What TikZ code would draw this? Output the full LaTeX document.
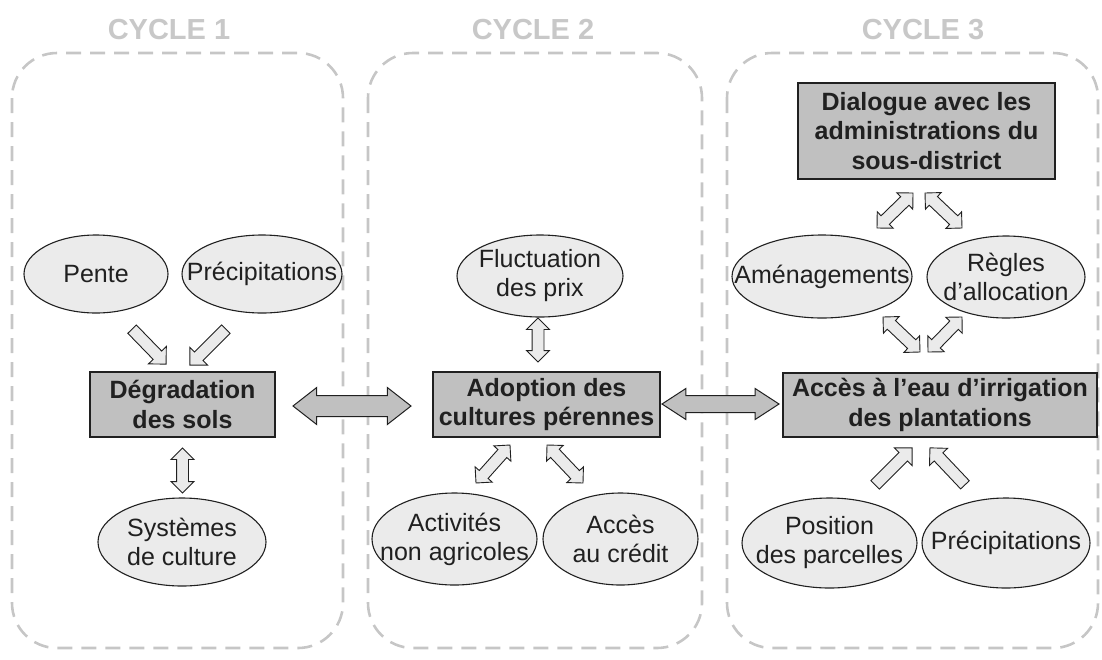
\documentclass[tikz,border=0pt]{standalone}
\usepackage{fontspec}
\setmainfont{Liberation Sans}
\usetikzlibrary{shapes.geometric,shapes.arrows,calc}

\definecolor{boxgray}{HTML}{C0C0C0}
\definecolor{ellfill}{HTML}{EBEBEB}
\definecolor{dashgray}{HTML}{C6C6C6}
\definecolor{titlegray}{HTML}{C8C8C8}
\definecolor{inkline}{HTML}{202020}

\tikzset{
  cyclebox/.style={draw=dashgray, line width=2.6pt, dash pattern=on 15pt off 9pt, rounded corners=45pt},
  cycletitle/.style={text=titlegray, font=\fontsize{29}{33}\selectfont\bfseries, inner sep=0pt},
  keybox/.style={rectangle, draw=inkline, line width=1.1pt, fill=boxgray, text=inkline,
    font=\fontsize{25}{29.5}\selectfont\bfseries, align=center, inner sep=0pt},
  factor/.style={ellipse, draw=inkline, line width=1.1pt, fill=ellfill, text=inkline,
    font=\fontsize{25}{29}\selectfont, align=center, inner xsep=-70pt, inner ysep=-40pt},
  smallarrow/.style={double arrow, draw=inkline, line width=0.9pt, fill=ellfill,
    inner xsep=0pt, inner ysep=5.5pt, double arrow head extend=5.5pt, minimum width=1pt,
    double arrow tip angle=90},
  onearrow/.style={single arrow, draw=inkline, line width=0.9pt, fill=ellfill,
    inner xsep=0pt, inner ysep=5.5pt, single arrow head extend=6.5pt, minimum width=1pt,
    single arrow tip angle=90},
  bigarrow/.style={double arrow, draw=inkline, line width=1pt, fill=boxgray,
    inner xsep=0pt, inner ysep=10pt, double arrow head extend=8pt, minimum width=1pt,
    double arrow tip angle=76},
}

\newcommand\linkarrow[4]{%
  \path let \p1=(#3), \p2=(#4), \n1={atan2(\y2-\y1,\x2-\x1)}, \n2={veclen(\x2-\x1,\y2-\y1)} in
    ($(\p1)!0.5!(\p2)$) node[#1, rotate=\n1, minimum height=\n2] (#2) {};}

\begin{document}
\begin{tikzpicture}[x=1pt, y=-1pt]
\useasboundingbox (0,0) rectangle (1102,659);

% cycle frames
\draw[cyclebox] (12,53) rectangle (343,648);
\draw[cyclebox] (368,53) rectangle (702,648);
\draw[cyclebox] (727,53) rectangle (1098,648);

\node[cycletitle] (t1) at (169,30) {CYCLE 1};
\node[cycletitle] (t2) at (533,30) {CYCLE 2};
\node[cycletitle] (t3) at (923,30) {CYCLE 3};

% cycle 1
\node[factor, minimum width=144pt, minimum height=78pt] (pente) at (96,274) {Pente};
\node[factor, minimum width=160pt, minimum height=78pt] (prec1) at (262,274) {Précipitations};
\node[keybox, minimum width=185pt, minimum height=65pt] (degr) at (182.5,404.5) {Dégradation\\des sols};
\node[factor, minimum width=168pt, minimum height=88pt] (syst) at (182,542) {Systèmes\\de culture};

% cycle 2
\node[factor, minimum width=166pt, minimum height=82pt] (fluct) at (540,276) {Fluctuation\\des prix};
\node[keybox, minimum width=227pt, minimum height=65pt] (adop) at (546.5,404.5) {Adoption des\\cultures pérennes};
\node[factor, minimum width=165pt, minimum height=92pt] (activ) at (454.5,539) {Activités\\non agricoles};
\node[factor, minimum width=155pt, minimum height=92pt] (credit) at (620.5,539) {Accès\\au crédit};

% cycle 3
\node[keybox, minimum width=257pt, minimum height=96pt] (dial) at (926.5,131) {Dialogue avec les\\administrations du\\sous-district};
\node[factor, minimum width=180pt, minimum height=83pt] (amen) at (822,276.5) {Aménagements};
\node[factor, minimum width=158pt, minimum height=82pt] (regl) at (1006,277) {Règles\\d’allocation};
\node[keybox, minimum width=314pt, minimum height=64pt] (acces) at (940,405) {Accès à l’eau d’irrigation\\des plantations};
\node[factor, minimum width=175pt, minimum height=90pt] (pos) at (829.5,543) {Position\\des parcelles};
\node[factor, minimum width=168pt, minimum height=90pt] (prec3) at (1006,543) {Précipitations};

% arrow end points
\coordinate (pa1) at (130,327);  \coordinate (pa2) at (164,362);
\coordinate (pb1) at (228,327);  \coordinate (pb2) at (192,363);
\coordinate (sa1) at (182.5,448); \coordinate (sa2) at (182.5,493);
\coordinate (h1a) at (293,406);  \coordinate (h1b) at (411,406);
\coordinate (fa1) at (538,318);  \coordinate (fa2) at (538,362);
\coordinate (da1) at (510,445);  \coordinate (da2) at (476,483);
\coordinate (db1) at (547,445);  \coordinate (db2) at (583,483);
\coordinate (h2a) at (662,404);  \coordinate (h2b) at (779,404);
\coordinate (ua1) at (913,193);  \coordinate (ua2) at (877,228);
\coordinate (ub1) at (925,193);  \coordinate (ub2) at (962,228);
\coordinate (ma1) at (883,317);  \coordinate (ma2) at (920,352);
\coordinate (mb1) at (962,317);  \coordinate (mb2) at (928,352);
\coordinate (la1) at (873,487);  \coordinate (la2) at (910,450);
\coordinate (lb1) at (967,487);  \coordinate (lb2) at (932,450);

% arrows
\linkarrow{onearrow}{arPente}{pa1}{pa2}
\linkarrow{onearrow}{arPrecA}{pb1}{pb2}
\linkarrow{smallarrow}{arSyst}{sa1}{sa2}
\linkarrow{bigarrow}{arDegAdop}{h1a}{h1b}
\linkarrow{smallarrow}{arFluct}{fa1}{fa2}
\linkarrow{smallarrow}{arActiv}{da1}{da2}
\linkarrow{smallarrow}{arCredit}{db1}{db2}
\linkarrow{bigarrow, inner ysep=8pt, double arrow head extend=7pt, double arrow tip angle=66}{arAdopAcc}{h2a}{h2b}
\linkarrow{smallarrow}{arDialA}{ua1}{ua2}
\linkarrow{smallarrow}{arDialB}{ub1}{ub2}
\linkarrow{smallarrow}{arAmen}{ma1}{ma2}
\linkarrow{smallarrow}{arRegl}{mb1}{mb2}
\linkarrow{onearrow}{arPos}{la1}{la2}
\linkarrow{onearrow}{arPrecB}{lb1}{lb2}
\end{tikzpicture}
\end{document}
